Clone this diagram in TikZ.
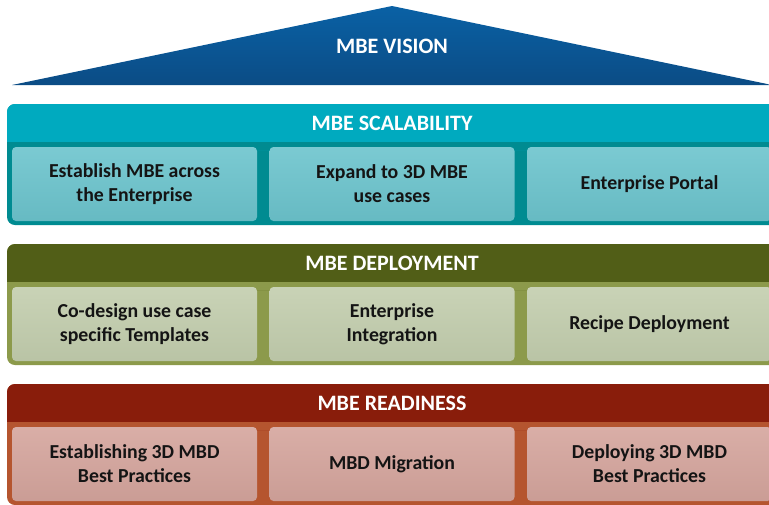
\documentclass[tikz,border=0pt]{standalone}
\usepackage{fontspec}
\setmainfont{Carlito}
\usepackage{tikz}

% layer colours
\definecolor{visiontop}{HTML}{0A61A5}
\definecolor{visionbot}{HTML}{0B4C85}
\definecolor{scalehead}{HTML}{00AABF}
\definecolor{scaleedge}{HTML}{008B91}
\definecolor{scalecell}{HTML}{6CC4CD}
\definecolor{deployhead}{HTML}{515E17}
\definecolor{deployedge}{HTML}{8C9A4B}
\definecolor{deploycell}{HTML}{C3CEAE}
\definecolor{readyhead}{HTML}{891D0B}
\definecolor{readyedge}{HTML}{B5552F}
\definecolor{readycell}{HTML}{D5A59D}

\tikzset{
  cellbox/.style={rectangle, rounded corners=4pt, minimum width=245pt, minimum height=74pt,
    align=center, text=black!92, font=\bfseries\fontsize{19.8}{24}\selectfont},
  headtext/.style={text=white, font=\bfseries\fontsize{22}{26}\selectfont}
}

\begin{document}
\begin{tikzpicture}[x=1pt,y=-1pt]
    \clip (0,0) rectangle (769,504);

    % Vision roof
    \shade[top color=visiontop,bottom color=visionbot] (12,85) -- (392,6) -- (772,85) -- cycle;
    \node[headtext] (vision) at (392,46) {MBE VISION};

    % Scalability layer
    \fill[scaleedge,rounded corners=8pt] (7,104) rectangle (777,225);
    \fill[scalehead,rounded corners=8pt] (7,104) rectangle (777,150);
    \fill[scaleedge] (7,142) rectangle (777,150);
    \node[headtext] (scalability) at (392,123) {MBE SCALABILITY};
    \node[cellbox,top color=scalecell!90!white,bottom color=scalecell!95!black] (scaleA) at (134.5,184) {Establish MBE across\\the Enterprise};
    \node[cellbox,top color=scalecell!90!white,bottom color=scalecell!95!black] (scaleB) at (392,184) {Expand to 3D MBE\\use cases};
    \node[cellbox,top color=scalecell!90!white,bottom color=scalecell!95!black] (scaleC) at (649.5,184) {Enterprise Portal};

    % Deployment layer
    \fill[deployedge,rounded corners=8pt] (7,244) rectangle (777,365);
    \fill[deployhead,rounded corners=8pt] (7,244) rectangle (777,290);
    \fill[deployedge] (7,282) rectangle (777,290);
    \node[headtext] (deployment) at (392,263) {MBE DEPLOYMENT};
    \node[cellbox,top color=deploycell!90!white,bottom color=deploycell!95!black] (deployA) at (134.5,324) {Co-design use case\\specific Templates};
    \node[cellbox,top color=deploycell!90!white,bottom color=deploycell!95!black] (deployB) at (392,324) {Enterprise\\Integration};
    \node[cellbox,top color=deploycell!90!white,bottom color=deploycell!95!black] (deployC) at (649.5,324) {Recipe Deployment};

    % Readiness layer
    \fill[readyedge,rounded corners=8pt] (7,384) rectangle (777,505);
    \fill[readyhead,rounded corners=8pt] (7,384) rectangle (777,430);
    \fill[readyedge] (7,422) rectangle (777,430);
    \node[headtext] (readiness) at (392,403) {MBE READINESS};
    \node[cellbox,top color=readycell!90!white,bottom color=readycell!95!black] (readyA) at (134.5,464) {Establishing 3D MBD\\Best Practices};
    \node[cellbox,top color=readycell!90!white,bottom color=readycell!95!black] (readyB) at (392,464) {MBD Migration};
    \node[cellbox,top color=readycell!90!white,bottom color=readycell!95!black] (readyC) at (649.5,464) {Deploying 3D MBD\\Best Practices};
\end{tikzpicture}
\end{document}
